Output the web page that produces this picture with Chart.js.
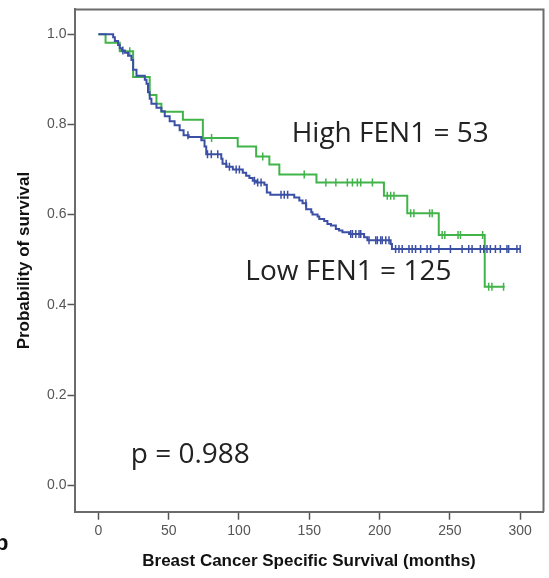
<!DOCTYPE html>
<html>
<head>
<meta charset="utf-8">
<script src="https://cdn.jsdelivr.net/npm/chart.js@4"></script>
<style>
  body { margin: 0; background: #fff; overflow: hidden; }
  #wrap { position: relative; width: 549px; height: 578px; }
  #panel { position: absolute; left: -5px; top: 530px; font: bold 22px "Liberation Sans", Arial, sans-serif; color: #111; }
</style>
</head>
<body>
<div id="wrap">
  <canvas id="km"></canvas>
  <div id="panel">b</div>
</div>
<script>
// axis ticks
const xTicks = [0, 50, 100, 150, 200, 250, 300];
const yTicks = [0, 0.2, 0.4, 0.6, 0.8, 1.0];

// High FEN1 (n = 53): event times (months) and survival after each step
const highTimes = [5.1, 15.2, 24.7, 36.5, 41.3, 44.8, 60.1, 74.3, 99.1, 112.2, 121.6, 128.7, 155.1, 203.1, 219.7, 242.1, 274.8];
const highSurv  = [0.981, 0.962, 0.905, 0.865, 0.846, 0.828, 0.810, 0.770, 0.751, 0.729, 0.711, 0.689, 0.671, 0.642, 0.603, 0.555, 0.440];
const highCensor = [22.3, 80.5, 116.9, 146.4, 161.8, 168.9, 177.1, 180.7, 184.2, 186.6, 194.9, 205.5, 207.9, 210.2, 222.1, 224.4, 235.6, 237.4, 244.5, 246.4, 255.8, 257.5, 273.3, 277.6, 279.9, 288.2];
const highEnd = 289;

// Low FEN1 (n = 125)
const lowTimes = [10.5, 11.7, 14.0, 15.2, 16.7, 18.8, 21.1, 23.5, 24.7, 27.1, 33.0, 34.2, 35.3, 36.5, 37.7, 41.3, 44.8, 47.2, 50.7, 54.2, 57.8, 60.6, 64.2, 73.2, 75.5, 76.7, 87.4, 88.3, 91.1, 95.6, 102.7, 105.1, 107.4, 109.8, 112.2, 118.1, 119.8, 122.3, 139.3, 142.9, 145.2, 147.8, 151.4, 152.3, 155.9, 157.1, 160.6, 162.9, 165.4, 168.9, 171.2, 173.6, 178.3, 189.0, 191.3, 207.9, 208.8];
const lowSurv  = [0.993, 0.985, 0.976, 0.969, 0.964, 0.959, 0.952, 0.943, 0.921, 0.908, 0.899, 0.890, 0.871, 0.857, 0.846, 0.837, 0.829, 0.818, 0.807, 0.798, 0.787, 0.776, 0.772, 0.765, 0.751, 0.734, 0.724, 0.713, 0.706, 0.700, 0.693, 0.686, 0.681, 0.675, 0.671, 0.666, 0.649, 0.644, 0.638, 0.631, 0.625, 0.612, 0.605, 0.600, 0.596, 0.590, 0.586, 0.579, 0.576, 0.568, 0.565, 0.561, 0.557, 0.550, 0.543, 0.535, 0.524];
const lowCensor = [17.4, 63.7, 77.6, 80.3, 84.9, 90.9, 93.2, 98.0, 100.3, 111.0, 113.3, 115.7, 129.9, 132.2, 134.6, 147.6, 179.5, 180.7, 183.1, 185.4, 186.6, 192.5, 197.3, 198.4, 200.8, 201.9, 204.4, 206.7, 211.4, 213.8, 216.1, 220.9, 223.2, 225.6, 229.2, 233.8, 236.3, 242.2, 250.4, 258.7, 263.4, 265.8, 271.7, 274.1, 276.4, 278.8, 282.4, 285.9, 290.6, 291.8, 297.7, 300.0];
const lowEnd = 300.1;

const GREEN = '#41b449';
const BLUE = '#3b4fa5';

function stepLine(times, surv, end) {
  const pts = [{ x: 0, y: 1 }];
  times.forEach((t, i) => pts.push({ x: t, y: surv[i] }));
  pts.push({ x: end, y: surv[surv.length - 1] });
  return pts;
}
function survAt(times, surv, t) {
  let s = 1;
  for (let i = 0; i < times.length; i++) if (times[i] <= t) s = surv[i];
  return s;
}
function censorPts(times, surv, cens) {
  return cens.map(c => ({ x: c, y: survAt(times, surv, c) }));
}

// grey frame on top and right of plot area
const framePlugin = {
  id: 'frame',
  beforeDatasetsDraw(chart) {
    const { ctx, chartArea: a } = chart;
    ctx.save();
    ctx.strokeStyle = '#6b6b6b';
    ctx.lineWidth = 2;
    ctx.beginPath();
    ctx.moveTo(a.left, a.top); ctx.lineTo(a.right, a.top); ctx.lineTo(a.right, a.bottom);
    ctx.stroke();
    ctx.restore();
  }
};

// text annotations placed in data units
const notes = [
  { text: 'High FEN1 = 53', x: 137.5, y: 0.778 },
  { text: 'Low FEN1 = 125', x: 104.5, y: 0.473 },
  { text: 'p = 0.988', x: 23, y: 0.067 }
];
const notePlugin = {
  id: 'notes',
  afterDatasetsDraw(chart) {
    const { ctx, scales } = chart;
    ctx.save();
    ctx.fillStyle = '#222';
    ctx.font = '28px "Open Sans", "Noto Sans", sans-serif';
    ctx.textBaseline = 'middle';
    ctx.textAlign = 'left';
    notes.forEach(n => ctx.fillText(n.text, scales.x.getPixelForValue(n.x), scales.y.getPixelForValue(n.y)));
    ctx.restore();
  }
};

const tickFont = { family: '"Liberation Sans", Arial, sans-serif', size: 14 };
const titleFont = { family: '"Liberation Sans", Arial, sans-serif', size: 17, weight: 'bold' };

new Chart(document.getElementById('km'), {
  type: 'scatter',
  data: {
    datasets: [
      { type: 'line', data: stepLine(lowTimes, lowSurv, lowEnd), stepped: 'before', borderColor: BLUE, borderWidth: 2, pointRadius: 0, fill: false },
      { data: censorPts(lowTimes, lowSurv, lowCensor), pointStyle: 'line', rotation: 90, pointRadius: 4, borderColor: BLUE, backgroundColor: BLUE, borderWidth: 1.5 },
      { type: 'line', data: stepLine(highTimes, highSurv, highEnd), stepped: 'before', borderColor: GREEN, borderWidth: 2, pointRadius: 0, fill: false },
      { data: censorPts(highTimes, highSurv, highCensor), pointStyle: 'line', rotation: 90, pointRadius: 4, borderColor: GREEN, backgroundColor: GREEN, borderWidth: 1.5 }
    ]
  },
  options: {
    responsive: true,
    maintainAspectRatio: false,
    animation: false,
    layout: { padding: { top: 5, right: 4, left: 0, bottom: 0 } },
    plugins: { legend: { display: false }, tooltip: { enabled: false } },
    scales: {
      x: {
        type: 'linear', min: -17, max: 316.6,
        afterBuildTicks: s => { s.ticks = xTicks.map(v => ({ value: v })); },
        afterFit: s => { s.height = 66.3; },
        ticks: { font: tickFont, color: '#555', padding: 3, maxRotation: 0 },
        grid: { drawOnChartArea: false, drawTicks: true, tickLength: 8, tickColor: '#555', tickWidth: 1.5 },
        border: { display: true, color: '#6b6b6b', width: 2 },
        title: { display: true, text: 'Breast Cancer Specific Survival (months)', font: titleFont, color: '#111', padding: { top: 4, bottom: 6 } }
      },
      y: {
        type: 'linear', min: -0.0586, max: 1.0549,
        afterBuildTicks: s => { s.ticks = yTicks.map(v => ({ value: v })); },
        afterFit: s => { s.width = 74.5; },
        ticks: { font: tickFont, color: '#555', padding: 1, callback: v => v.toFixed(1) },
        grid: { drawOnChartArea: false, drawTicks: true, tickLength: 7, tickColor: '#555', tickWidth: 1.5 },
        border: { display: true, color: '#6b6b6b', width: 2 },
        title: { display: true, text: 'Probability of survival', font: titleFont, color: '#111', padding: { top: 14, bottom: 0 } }
      }
    }
  },
  plugins: [framePlugin, notePlugin]
});
</script>
</body>
</html>
